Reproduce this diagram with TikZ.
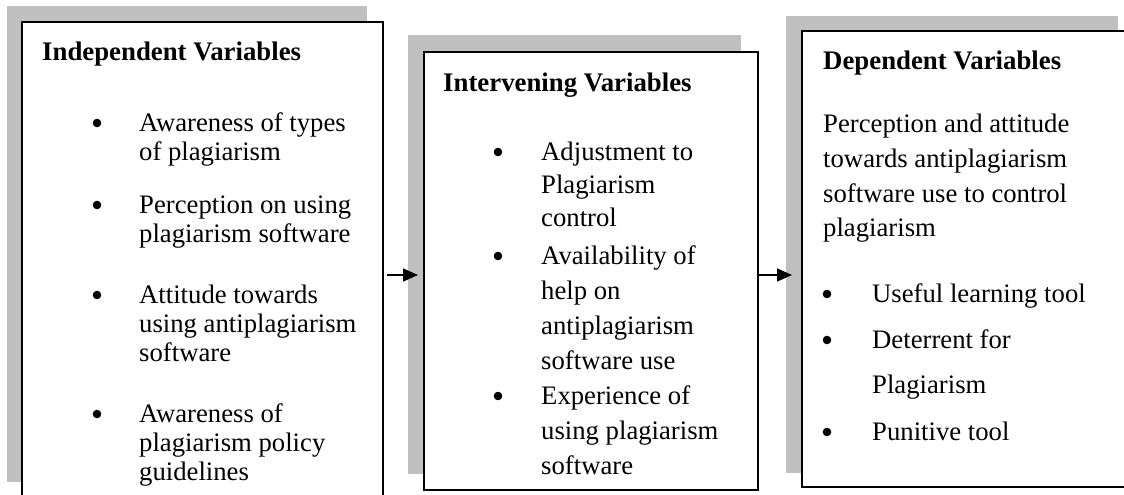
\documentclass[tikz,border=0pt]{standalone}
\usepackage{fontspec}
\setmainfont{Liberation Serif}
\usetikzlibrary{arrows.meta}
\definecolor{shade}{RGB}{192,192,192}
\begin{document}
\begin{tikzpicture}[x=1pt,y=-1pt,
  shadowfill/.style={fill=shade},
  varbox/.style={draw=black,line width=1.6pt,fill=white,anchor=north west,inner sep=0pt,outer sep=0pt},
  ttl/.style={anchor=base west,inner sep=0pt,font=\fontsize{26.8}{30}\selectfont\bfseries},
  txt/.style={anchor=base west,inner sep=0pt,font=\fontsize{26.7}{30}\selectfont},
  bul/.style={circle,fill=black,inner sep=0pt,minimum size=8.6pt},
  flow/.style={line width=1.5pt,-{Triangle[length=15pt,width=13pt]}}]
\useasboundingbox (0,0) rectangle (1124,495);
% shadows
\fill[shadowfill] (7,6) rectangle (367,482);
\fill[shadowfill] (408,35) rectangle (741,474);
\fill[shadowfill] (786,16) rectangle (1118,473);
% boxes
\node[varbox,minimum width=361pt,minimum height=498pt] (b1) at (22,22) {};
\node[varbox,minimum width=334pt,minimum height=438pt] (b2) at (424,52) {};
\node[varbox,minimum width=324pt,minimum height=456pt] (b3) at (802,31) {};
% box 1
\node[ttl] (t1) at (42,60) {Independent Variables};
\foreach \yy/\tx [count=\i] in {131/Awareness of types,160/of plagiarism,213/Perception on using,242/plagiarism software,303/Attitude towards,332/using antiplagiarism,361/software,422/Awareness of,451/plagiarism policy,480/guidelines}
  \node[txt] (p\i) at (139,\yy) {\tx};
\foreach \yy [count=\i] in {131,213,303,422}
  \node[bul] (d\i) at (97,\yy-8) {};
% box 2
\node[ttl] (t2) at (443,92) {Intervening Variables};
\foreach \yy/\tx [count=\i] in {160/Adjustment to,193/Plagiarism,226/control,264/Availability of,299/help on,334/antiplagiarism,369/software use,404/Experience of,439/using plagiarism,474/software}
  \node[txt] (q\i) at (541,\yy) {\tx};
\foreach \yy [count=\i] in {160,264,404}
  \node[bul] (e\i) at (498,\yy-8) {};
% box 3
\node[ttl] (t3) at (823,70) {Dependent Variables};
\foreach \yy/\tx [count=\i] in {132/Perception and attitude,167/towards antiplagiarism,202/software use to control,236/plagiarism}
  \node[txt] (r\i) at (823,\yy) {\tx};
\foreach \yy/\tx [count=\i] in {302/Useful learning tool,348/Deterrent for,393/Plagiarism,440/Punitive tool}
  \node[txt] (s\i) at (872,\yy) {\tx};
\foreach \yy [count=\i] in {302,348,440}
  \node[bul] (f\i) at (827,\yy-8) {};
% connectors
\coordinate (lvl) at (0,275);
\draw[flow] ([xshift=4pt]b1.east |- lvl) -- ([xshift=-6pt]b2.west |- lvl);
\draw[flow] (b2.east |- lvl) -- ([xshift=-10pt]b3.west |- lvl);
\end{tikzpicture}
\end{document}
